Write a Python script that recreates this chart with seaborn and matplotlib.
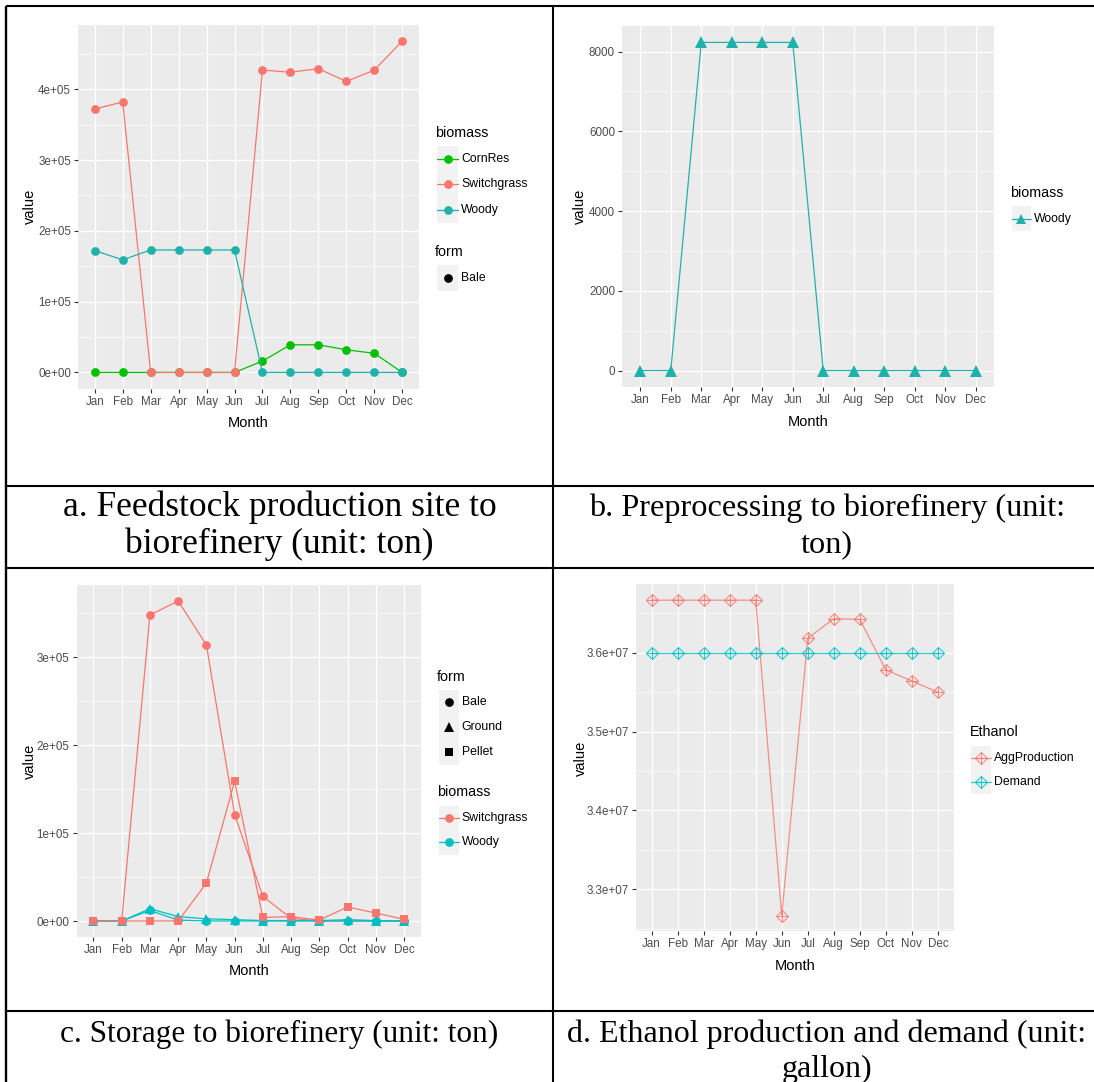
import numpy as np
import pandas as pd
import matplotlib
matplotlib.use("Agg")
import matplotlib.pyplot as plt
import seaborn as sns
from matplotlib.lines import Line2D
from matplotlib.patches import Rectangle
from matplotlib.ticker import FixedLocator

W, H, DPI = 1094, 1082, 100

months = ["Jan", "Feb", "Mar", "Apr", "May", "Jun",
          "Jul", "Aug", "Sep", "Oct", "Nov", "Dec"]

# (a) feedstock production site -> biorefinery (ton)
a_cornres = [0, 0, 0, 0, 0, 0, 16000, 39000, 39000, 32000, 27000, 0]
a_switchgrass = [372000, 382000, 0, 0, 0, 0, 427000, 424000, 429000, 411000, 427000, 468000]
a_woody = [172000, 159000, 173000, 173000, 173000, 173000, 0, 0, 0, 0, 0, 0]
a_yticks = [0, 100000, 200000, 300000, 400000]
a_yticklabels = ["0e+00", "1e+05", "2e+05", "3e+05", "4e+05"]

# (b) preprocessing -> biorefinery (ton)
b_woody = [0, 0, 8230, 8230, 8230, 8230, 0, 0, 0, 0, 0, 0]
b_yticks = [0, 2000, 4000, 6000, 8000]
b_yticklabels = ["0", "2000", "4000", "6000", "8000"]

# (c) storage -> biorefinery (ton)
c_switchgrass_bale = [0, 0, 348000, 364000, 314000, 121000, 28000, 3000, 0, 0, 0, 0]
c_switchgrass_pellet = [0, 0, 0, 0, 43000, 159000, 4000, 5000, 1000, 16000, 9000, 2000]
c_woody_bale = [0, 0, 12000, 1000, 0, 0, 0, 0, 0, 0, 0, 0]
c_woody_ground = [0, 0, 14000, 5000, 2500, 1500, 500, 500, 500, 1500, 500, 0]
c_yticks = [0, 100000, 200000, 300000]
c_yticklabels = ["0e+00", "1e+05", "2e+05", "3e+05"]

# (d) ethanol production and demand (gallon)
d_aggproduction = [36.667e6, 36.667e6, 36.667e6, 36.667e6, 36.667e6, 32.664e6,
                   36.183e6, 36.432e6, 36.423e6, 35.782e6, 35.642e6, 35.499e6]
d_demand = [36.0e6] * 12
d_yticks = [33e6, 34e6, 35e6, 36e6]
d_yticklabels = ["3.3e+07", "3.4e+07", "3.5e+07", "3.6e+07"]

captions = {
    "a": ["a. Feedstock production site to", "biorefinery (unit: ton)"],
    "b": ["b. Preprocessing to biorefinery (unit:", "ton)"],
    "c": ["c. Storage to biorefinery (unit: ton)"],
    "d": ["d. Ethanol production and demand (unit:", "gallon)"],
}

RED = "#F8766D"
GREEN = "#00C000"
SEA = "#20B2AA"
CYAN = "#00BFC4"

TICK_FS = 8.4
TITLE_FS = 10.5
LEG_TITLE_FS = 10.3
LEG_FS = 8.8

sns.set_style("darkgrid")
plt.rcParams["font.family"] = ["Liberation Sans", "DejaVu Sans"]

fig = plt.figure(figsize=(W / DPI, H / DPI), dpi=DPI)
fig.patch.set_facecolor("white")


def fx(x):
    return x / W


def fy(y):
    return 1 - y / H


def add_panel(x0, y0, x1, y1):
    return fig.add_axes([fx(x0), fy(y1), (x1 - x0) / W, (y1 - y0) / H])


def padded(values):
    lo, hi = min(values), max(values)
    pad = 0.05 * (hi - lo)
    return lo - pad, hi + pad


def style_axes(ax, ylim, yticks, yticklabels):
    ax.set_facecolor("#EBEBEB")
    for s in ax.spines.values():
        s.set_visible(False)
    ax.set_xlim(-0.6, 11.6)
    ax.set_xticks(range(12))
    ax.set_xticklabels(months)
    ax.set_ylim(*ylim)
    ax.set_yticks(yticks)
    ax.set_yticklabels(yticklabels)
    step = yticks[1] - yticks[0]
    minors = [t + step / 2 for t in [yticks[0] - step] + list(yticks)]
    minors = [m for m in minors if ylim[0] < m < ylim[1]]
    ax.yaxis.set_minor_locator(FixedLocator(minors))
    ax.grid(False)
    ax.grid(which="major", axis="both", color="white", linewidth=1.0)
    ax.grid(which="minor", axis="y", color="white", linewidth=0.5)
    ax.set_axisbelow(True)
    ax.tick_params(which="major", length=2.6, width=0.8, color="#333333",
                   labelcolor="#4D4D4D", labelsize=TICK_FS, pad=2.5,
                   bottom=True, left=True)
    ax.tick_params(which="minor", length=0)


def axis_titles(ax, box, xlab_y, ylab_x):
    x0, y0, x1, y1 = box
    ax.set_xlabel("Month", fontsize=TITLE_FS, color="black")
    ax.set_ylabel("value", fontsize=TITLE_FS, color="black")
    ax.xaxis.label.set_va("center")
    ax.yaxis.label.set_va("center")
    ax.xaxis.set_label_coords(fx((x0 + x1) / 2), fy(xlab_y), transform=fig.transFigure)
    ax.yaxis.set_label_coords(fx(ylab_x), fy((y0 + y1) / 2), transform=fig.transFigure)


def legend_title(x, y, text):
    fig.text(fx(x), fy(y), text, ha="left", va="center", fontsize=LEG_TITLE_FS, color="black")


def legend_entry(bx0, bx1, yc, h, label, color, marker, ms, line=True,
                 open_marker=False, plus=False):
    fig.add_artist(Rectangle((fx(bx0), fy(yc + h / 2)), (bx1 - bx0) / W, h / H,
                             transform=fig.transFigure, facecolor="#F2F2F2",
                             edgecolor="none", zorder=1))
    alpha = 0.8 if open_marker else 1.0
    if line:
        fig.add_artist(Line2D([fx(bx0), fx(bx1)], [fy(yc)] * 2, color=color, lw=0.9,
                              alpha=alpha, transform=fig.transFigure, zorder=2))
    xc = (bx0 + bx1) / 2
    if open_marker:
        fig.add_artist(Line2D([fx(xc)], [fy(yc)], marker=marker, ms=ms, mfc="none",
                              mec=color, mew=0.8, alpha=alpha, linestyle="",
                              transform=fig.transFigure, zorder=3))
    else:
        fig.add_artist(Line2D([fx(xc)], [fy(yc)], marker=marker, ms=ms, mfc=color,
                              mec=color, mew=0, linestyle="",
                              transform=fig.transFigure, zorder=3))
    if plus:
        fig.add_artist(Line2D([fx(xc)], [fy(yc)], marker="+", ms=ms * 1.414, mec=color,
                              mew=0.8, alpha=alpha, linestyle="",
                              transform=fig.transFigure, zorder=3))
    fig.text(fx(bx1 + 3), fy(yc), label, ha="left", va="center", fontsize=LEG_FS, color="black")


def draw_series(ax, values, color, marker, ms, lw=0.9):
    df = pd.DataFrame({"Month": months, "value": values})
    sns.lineplot(data=df, x="Month", y="value", color=color, marker=marker,
                 markersize=ms, markerfacecolor=color, markeredgecolor=color,
                 markeredgewidth=0, linewidth=lw, sort=False, ax=ax)


# ---------------- panel a ----------------
box_a = (78, 24.5, 419, 389)
ax_a = add_panel(*box_a)
for vals, col in [(a_cornres, GREEN), (a_switchgrass, RED), (a_woody, SEA)]:
    draw_series(ax_a, vals, col, "o", 6.3)
style_axes(ax_a, padded(a_cornres + a_switchgrass + a_woody), a_yticks, a_yticklabels)
axis_titles(ax_a, box_a, 422.6, 30)

legend_title(435, 133, "biomass")
for lab, yc, col in [("CornRes", 158.5, GREEN), ("Switchgrass", 184, RED), ("Woody", 210, SEA)]:
    legend_entry(437, 458, yc, 25.5, lab, col, "o", 6.3)
legend_title(435, 252.5, "form")
legend_entry(437, 458, 278, 25.5, "Bale", "black", "o", 6.3, line=False)

# ---------------- panel b ----------------
box_b = (622, 26, 994, 387)
ax_b = add_panel(*box_b)
draw_series(ax_b, b_woody, SEA, "^", 8.5)
style_axes(ax_b, padded(b_woody), b_yticks, b_yticklabels)
axis_titles(ax_b, box_b, 421.6, 579.5)

legend_title(1009.7, 193.3, "biomass")
legend_entry(1011.5, 1030.6, 218.6, 25.5, "Woody", SEA, "^", 7.5)

# ---------------- panel c ----------------
box_c = (76.5, 585, 421, 937)
ax_c = add_panel(*box_c)
for vals, col, mk in [(c_switchgrass_bale, RED, "o"), (c_woody_bale, CYAN, "o"),
                      (c_woody_ground, CYAN, "^"), (c_switchgrass_pellet, RED, "s")]:
    draw_series(ax_c, vals, col, mk, 6.3 if mk != "^" else 7.2)
style_axes(ax_c, padded(c_switchgrass_bale + c_switchgrass_pellet + c_woody_bale + c_woody_ground),
           c_yticks, c_yticklabels)
axis_titles(ax_c, box_c, 971, 30)

legend_title(436.7, 677, "form")
for lab, yc, mk in [("Bale", 702, "o"), ("Ground", 727, "^"), ("Pellet", 752, "s")]:
    legend_entry(438.5, 458.8, yc, 25, lab, "black", mk, 6.3 if mk != "^" else 7.2, line=False)
legend_title(436.7, 792, "biomass")
for lab, yc, col in [("Switchgrass", 818, RED), ("Woody", 842, CYAN)]:
    legend_entry(438.5, 458.8, yc, 25, lab, col, "o", 6.3)

# ---------------- panel d ----------------
box_d = (636, 584.4, 953.5, 931.4)
ax_d = add_panel(*box_d)
d_df = pd.DataFrame({
    "Month": months * 2,
    "value": d_aggproduction + d_demand,
    "Ethanol": ["AggProduction"] * 12 + ["Demand"] * 12,
})
d_palette = {"AggProduction": RED, "Demand": CYAN}
for name, col in d_palette.items():
    sub = d_df[d_df["Ethanol"] == name]
    sns.lineplot(data=sub, x="Month", y="value", color=col, marker="D", markersize=6.3,
                 markerfacecolor="none", markeredgecolor=col, markeredgewidth=0.8,
                 linewidth=0.9, alpha=0.8, sort=False, ax=ax_d)
    sns.lineplot(data=sub, x="Month", y="value", color=col, marker="+", markersize=8.9,
                 markeredgecolor=col, markeredgewidth=0.8, linestyle="",
                 alpha=0.8, sort=False, ax=ax_d)
style_axes(ax_d, padded(d_aggproduction + d_demand), d_yticks, d_yticklabels)
axis_titles(ax_d, box_d, 966, 580.5)

legend_title(969.9, 731.9, "Ethanol")
for lab, yc in [("AggProduction", 757.9), ("Demand", 782.2)]:
    legend_entry(971, 990.7, yc, 24.5, lab, d_palette[lab], "D", 6.3,
                 open_marker=True, plus=True)


# ---------------- table frame and captions ----------------
def hline(y, x0=6, x1=W + 10, lw=1.5):
    fig.add_artist(Line2D([fx(x0), fx(x1)], [fy(y)] * 2, color="black", lw=lw,
                          transform=fig.transFigure, solid_capstyle="butt"))


def vline(x, y0=6, y1=H + 10, lw=1.5):
    fig.add_artist(Line2D([fx(x)] * 2, [fy(y0), fy(y1)], color="black", lw=lw,
                          transform=fig.transFigure, solid_capstyle="butt"))


for yy in (6, 486, 568, 1011):
    hline(yy)
vline(6, lw=1.7)
vline(553)


def caption(lines, cx, baselines, size):
    for text, base in zip(lines, baselines):
        fig.text(fx(cx), fy(base), text, ha="center", va="baseline",
                 family=["Liberation Serif", "DejaVu Serif"], fontsize=size, color="black")


caption(captions["a"], 279.5, [516, 553], 25.5)
caption(captions["b"], 827, [516, 552], 23.2)
caption(captions["c"], 279.5, [1042], 22.5)
caption(captions["d"], 827, [1042, 1077], 23.0)

fig.savefig("out.png", dpi=DPI, facecolor="white")
